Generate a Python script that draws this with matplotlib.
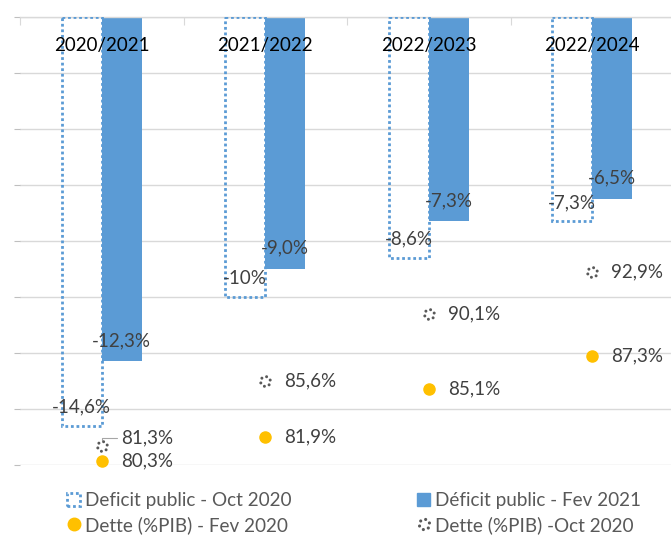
import numpy as np
import matplotlib
matplotlib.use("Agg")
import matplotlib.pyplot as plt
from matplotlib.path import Path
from matplotlib.patches import Patch
from matplotlib.lines import Line2D

plt.rcParams['font.family'] = ['Lato', 'DejaVu Sans']

# ---- data ----
categories = ["2020/2021", "2021/2022", "2022/2023", "2022/2024"]
deficit_oct2020 = [-14.6, -10.0, -8.6, -7.3]
deficit_fev2021 = [-12.3, -9.0, -7.3, -6.5]
deficit_oct2020_labels = ["-14,6%", "-10%", "-8,6%", "-7,3%"]
deficit_fev2021_labels = ["-12,3%", "-9,0%", "-7,3%", "-6,5%"]
dette_fev2020 = [80.3, 81.9, 85.1, 87.3]
dette_oct2020 = [81.3, 85.6, 90.1, 92.9]
dette_fev2020_labels = ["80,3%", "81,9%", "85,1%", "87,3%"]
dette_oct2020_labels = ["81,3%", "85,6%", "90,1%", "92,9%"]
legend_labels = ["Deficit public - Oct 2020", "Dette (%PIB) - Fev 2020",
                 "Déficit public - Fev 2021", "Dette (%PIB) -Oct 2020"]

BLUE = "#5B9BD5"
ORANGE = "#FFC000"
DOTGRAY = "#595959"
LABEL = "#404040"
GRID = "#D9D9D9"

# dotted-ring marker
dots = []
for a in np.linspace(0, 2 * np.pi, 6, endpoint=False) + 0.3:
    dots.append(Path.circle((np.cos(a), np.sin(a)), 0.3))
ring_marker = Path.make_compound_path(*dots)

W, H = 671, 535
fig = plt.figure(figsize=(W / 100, H / 100), dpi=100)
ax = fig.add_axes([20 / W, 1 - 465 / H, 654 / W, 448 / H])

x = np.arange(len(categories))
bw = 0.245
ax.bar(x + bw / 2, deficit_fev2021, bw, color=BLUE, zorder=2)
ax.bar(x - bw / 2, deficit_oct2020, bw, facecolor="none", edgecolor=BLUE,
       linestyle=(0, (1, 1)), linewidth=2.0, zorder=3)

ax.set_xlim(-0.5, len(categories) - 0.5)
ax.set_ylim(-16, 0)
ax.set_yticks(np.arange(-16, 1, 2))
ax.yaxis.grid(True, color=GRID, linewidth=1)
ax.set_axisbelow(True)
for s in ["left", "right", "bottom"]:
    ax.spines[s].set_visible(False)
ax.spines["top"].set_color(GRID)
ax.spines["top"].set_linewidth(1)
ax.tick_params(axis="y", length=4, color="#BFBFBF", labelleft=False)
ax.xaxis.set_ticks_position("top")
ax.set_xticks(np.arange(-0.5, len(categories), 1))
ax.tick_params(axis="x", direction="in", length=6, color=GRID,
               labeltop=False, labelbottom=False)

for i, c in enumerate(categories):
    ax.annotate(c, xy=(i, 0), xytext=(0, -28), textcoords="offset pixels",
                ha="center", va="center", fontsize=13.5, color="black", zorder=6)

LFS = 13.5
for i in range(len(categories)):
    ax.annotate(deficit_oct2020_labels[i], xy=(i - bw / 2, deficit_oct2020[i]),
                xytext=(0, 19), textcoords="offset pixels", ha="center",
                va="center", fontsize=LFS, color=LABEL, zorder=6)
    ax.annotate(deficit_fev2021_labels[i], xy=(i + bw / 2, deficit_fev2021[i]),
                xytext=(0, 21), textcoords="offset pixels", ha="center",
                va="center", fontsize=LFS, color=LABEL, zorder=6)

ax2 = ax.twinx()
ax2.set_ylim(80, 110)
ax2.axis("off")
ax2.plot(x, dette_fev2020, linestyle="none", marker="o", color=ORANGE,
         markersize=8, zorder=5, clip_on=False)
ax2.plot(x, dette_oct2020, linestyle="none", marker=ring_marker, color=DOTGRAY,
         markeredgewidth=0, markersize=9, zorder=5, clip_on=False)

for i in range(len(categories)):
    ax2.annotate(dette_fev2020_labels[i], xy=(i, dette_fev2020[i]),
                 xytext=(19, 0), textcoords="offset pixels", ha="left",
                 va="center", fontsize=LFS, color=LABEL)
    if i == 0:
        ax2.annotate(dette_oct2020_labels[i], xy=(i, dette_oct2020[i]),
                     xytext=(19, 8), textcoords="offset pixels", ha="left",
                     va="center", fontsize=LFS, color=LABEL,
                     arrowprops=dict(arrowstyle="-", color="#A6A6A6", lw=0.8,
                                     shrinkA=1, shrinkB=4,
                                     connectionstyle="angle,angleA=0,angleB=90,rad=0"))
    else:
        ax2.annotate(dette_oct2020_labels[i], xy=(i, dette_oct2020[i]),
                     xytext=(19, 0), textcoords="offset pixels", ha="left",
                     va="center", fontsize=LFS, color=LABEL)

h_oct = Patch(facecolor="white", edgecolor=BLUE, linestyle=(0, (1, 1)), linewidth=2.0)
h_fev = Patch(facecolor=BLUE, edgecolor=BLUE)
h_dfev = Line2D([], [], linestyle="none", marker="o", color=ORANGE, markersize=9)
h_doct = Line2D([], [], linestyle="none", marker=ring_marker, color=DOTGRAY,
                markeredgewidth=0, markersize=9.5)

common = dict(frameon=False, fontsize=13.6, labelcolor="#595959", loc="upper left",
              borderpad=0, borderaxespad=0, handlelength=0.7, handleheight=0.7,
              handletextpad=0.25, labelspacing=0.38)
fig.legend([h_oct, h_dfev], legend_labels[:2],
           bbox_to_anchor=(67 / W, 1 - 492 / H), **common)
fig.legend([h_fev, h_doct], legend_labels[2:],
           bbox_to_anchor=(417 / W, 1 - 492 / H), **common)

fig.savefig("out.png", dpi=100)
